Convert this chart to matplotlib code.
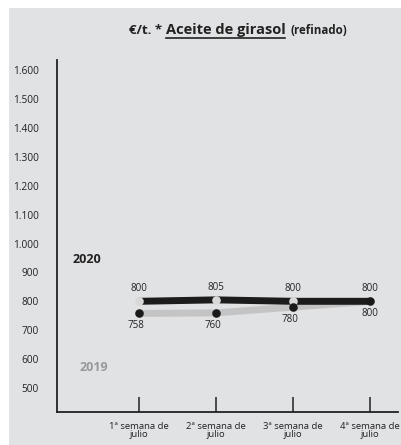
import matplotlib.pyplot as plt
from matplotlib.patches import Rectangle
from matplotlib.lines import Line2D

plt.rcParams['font.family'] = ['Open Sans', 'DejaVu Sans']

# Data
weeks = ['1ª semana de\njulio', '2ª semana de\njulio', '3ª semana de\njulio', '4ª semana de\njulio']
prices_2020 = [800, 805, 800, 800]
prices_2019 = [758, 760, 780, 800]
y_ticks = [500, 600, 700, 800, 900, 1000, 1100, 1200, 1300, 1400, 1500, 1600]

bg = '#e1e2e4'
x = list(range(len(weeks)))

fig = plt.figure(figsize=(4.01, 4.45), dpi=100)
fig.patches.append(Rectangle((9 / 401, 0), 1, 1 - 8 / 445, transform=fig.transFigure,
                             facecolor=bg, edgecolor='none', zorder=-10))

ax = fig.add_axes([57 / 401, 33 / 445, 341 / 401, 352 / 445])
ax.set_facecolor('none')
ax.set_xlim(-1.06, 3.36)
ax.set_ylim(417, 1635)

# lines
ax.plot(x, prices_2019, color='#c4c4c4', lw=5, solid_capstyle='round', zorder=2)
ax.plot(x, prices_2020, color='#1c1c1c', lw=5, solid_capstyle='butt', zorder=3)
ax.scatter(x[:3], prices_2020[:3], s=38, color='#d8d8d8', linewidths=0, zorder=4)
ax.scatter(x, prices_2019, s=38, color='#1a1a1a', linewidths=0, zorder=5)

# value labels
for i, v in enumerate(prices_2020):
    ax.annotate(str(v), (x[i], v), xytext=(0, 5), textcoords='offset points',
                ha='center', va='bottom', fontsize=7, color='#222222')
for i, v in enumerate(prices_2019):
    ax.annotate(str(v), (x[i], v), xytext=(-2 if i < 3 else 0, -5), textcoords='offset points',
                ha='center', va='top', fontsize=7, color='#222222')

ax.text(-0.86, 945, '2020', fontsize=9, fontweight='bold', color='#222222', va='center')
ax.text(-0.77, 570, '2019', fontsize=9, fontweight='bold', color='#999999', va='center')

# axes styling
for s in ['top', 'right']:
    ax.spines[s].set_visible(False)
for s in ['left', 'bottom']:
    ax.spines[s].set_linewidth(1.3)
    ax.spines[s].set_color('#222222')
ax.set_yticks(y_ticks)
ax.set_yticklabels([f'{v:,}'.replace(',', '.') for v in y_ticks], fontsize=7.3, color='#222222')
ax.tick_params(axis='y', length=0, pad=13)
ax.set_xticks(x)
ax.set_xticklabels(weeks, fontsize=6.8, color='#222222', linespacing=0.95)
ax.tick_params(axis='x', direction='in', length=11, width=1.1, color='#222222', pad=7)

# title with underlined middle part
fig.canvas.draw()
r = fig.canvas.get_renderer()
ty = 1 - 34 / 445
t1 = fig.text(129 / 401, ty, '€/t. * ', fontsize=9.5, fontweight='bold', color='#222222', va='baseline')
bb1 = t1.get_window_extent(r)
t2 = fig.text(bb1.x1 / fig.bbox.width, ty, 'Aceite de girasol', fontsize=10.5,
              fontweight='bold', color='#222222', va='baseline')
bb2 = t2.get_window_extent(r)
t3 = fig.text(bb2.x1 / fig.bbox.width + 0.014, ty, '(refinado)', fontsize=8.3,
              fontweight='bold', color='#222222', va='baseline')
uy = ty - 4 / 445
fig.lines.append(Line2D([bb2.x0 / fig.bbox.width, bb2.x1 / fig.bbox.width], [uy, uy],
                        transform=fig.transFigure, color='#222222', lw=1.2))

fig.savefig('out.png', dpi=100)
